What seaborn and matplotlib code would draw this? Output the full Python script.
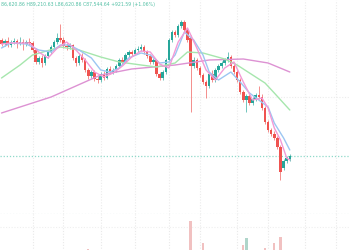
import numpy as np
import pandas as pd
import matplotlib
matplotlib.use("Agg")
import matplotlib.pyplot as plt
import seaborn as sns

# ---------------- data ----------------
open_ = [99150, 98750, 99050, 98650, 98950, 99050, 98750, 98950, 98750, 98950,
         98850, 98150, 96950, 97350, 96850, 97550, 97950, 98450, 98950, 99350,
         99150, 98550, 98450, 98650, 97350, 96850, 97550, 97150, 96150, 95550,
         95950, 95250, 95150, 95750, 95350, 96250, 95950, 96150, 96550, 97150,
         96950, 97650, 97950, 97750, 98150, 98250, 98450, 97950, 97550, 96950,
         97150, 95750, 95350, 95950, 97150, 99150, 99950, 99650, 100550, 100950,
         100150, 99350, 96550, 97150, 96350, 95650, 94950, 94550, 95750, 95150,
         96150, 96550, 96850, 97150, 97450, 96550, 95950, 95150, 93950, 93150,
         93550, 92850, 93250, 93650, 93450, 92350, 90950, 90150, 89750, 89350,
         88450, 86350, 87050, 87250]
high = [99350, 99250, 99450, 99150, 99350, 99250, 99450, 99250, 99150, 99350,
        99050, 98350, 97550, 97650, 97750, 98150, 98650, 99150, 99850, 100750,
        99450, 98850, 98850, 98750, 97550, 97750, 97850, 97350, 96350, 96150,
        96150, 95550, 95950, 96050, 96450, 96550, 96350, 96750, 97350, 97450,
        97850, 98150, 98150, 98350, 98550, 98750, 98650, 98150, 97750, 97350,
        97250, 95950, 96150, 97350, 99350, 100150, 100150, 100750, 101150, 101150,
        100350, 99650, 97450, 97350, 96550, 95850, 95150, 95950, 96150, 96350,
        96750, 97050, 97350, 97950, 97650, 96750, 96150, 95350, 94150, 93750,
        93750, 93450, 93850, 94550, 93750, 92550, 91150, 90350, 90050, 89550,
        88650, 87250, 87550, 87750]
low = [98550, 98550, 98450, 98450, 98750, 98350, 98650, 98150, 98550, 98650,
       97950, 96750, 96750, 96450, 96650, 97350, 97750, 98250, 98750, 98950,
       98350, 98150, 98250, 97150, 96550, 96650, 96950, 95950, 95250, 95350,
       95050, 94850, 94950, 95150, 95250, 95750, 95750, 95950, 96350, 96750,
       96850, 97450, 97550, 97650, 97950, 98050, 97750, 97350, 96750, 96750,
       95550, 95150, 95150, 95750, 96950, 98950, 99450, 99450, 100350, 99950,
       98950, 91950, 96350, 96150, 95450, 94750, 93350, 94350, 94950, 94950,
       95950, 96350, 96650, 96950, 96350, 95750, 94950, 93750, 92950, 91950,
       92650, 92650, 93050, 93250, 92150, 90750, 89950, 89550, 89150, 88250,
       85150, 86150, 86850, 87050]
close = [98750, 99050, 98650, 98950, 99050, 98750, 98950, 98750, 98950, 98850,
         98150, 96950, 97350, 96850, 97550, 97950, 98450, 98950, 99350, 99150,
         98550, 98450, 98650, 97350, 96850, 97550, 97150, 96150, 95550, 95950,
         95250, 95150, 95750, 95350, 96250, 95950, 96150, 96550, 97150, 96950,
         97650, 97950, 97750, 98150, 98250, 98450, 97950, 97550, 96950, 97150,
         95750, 95350, 95950, 97150, 99150, 99950, 99650, 100550, 100950, 100150,
         99150, 96550, 97150, 96350, 95650, 94950, 94550, 95750, 95150, 96150,
         96550, 96850, 97150, 97450, 96550, 95950, 95150, 93950, 93150, 93550,
         92850, 93250, 93650, 93450, 92350, 90950, 90150, 89750, 89350, 88450,
         85950, 87050, 87350, 87550]
volume = [9, 8, 10, 7, 8, 9, 7, 8, 9, 8,
          11, 13, 10, 9, 10, 9, 11, 12, 13, 14,
          12, 9, 8, 12, 13, 10, 9, 12, 16, 11,
          12, 13, 11, 10, 12, 9, 8, 9, 11, 8,
          10, 9, 8, 9, 8, 10, 9, 10, 12, 9,
          13, 12, 10, 11, 14, 13, 10, 12, 13, 12,
          14, 44, 12, 11, 13, 22, 14, 12, 10, 11,
          9, 8, 9, 11, 10, 11, 12, 14, 20, 27,
          13, 11, 10, 12, 14, 17, 14, 13, 22, 14,
          28, 13, 10, 8]

# moving averages (candle index, value)
ma_fast_idx = [0, 3, 6, 9, 12, 15, 18, 21, 24, 27, 30, 33, 36, 39, 42, 45, 48, 51,
               54, 57, 60, 63, 66, 69, 72, 75, 78, 81, 84, 86, 88, 90, 92, 93]
ma_fast = [98750, 98850, 98850, 98850, 97950, 97350, 98350, 98950, 98150, 97150,
           95950, 95450, 95850, 96550, 97450, 98050, 97950, 96750, 96350, 98950,
           100350, 98350, 96150, 95150, 96350, 96950, 94950, 93150, 93350, 92350,
           90350, 89150, 87350, 87150]
ma_mid_idx = [0, 3, 8, 12, 16, 19, 22, 25, 29, 32, 35, 38, 41, 45, 48, 51, 54, 56,
              59, 62, 65, 67, 70, 74, 77, 80, 83, 86, 88, 91, 93]
ma_mid = [98350, 98850, 98750, 98150, 97950, 98650, 98650, 98150, 97350, 96150,
          95950, 96350, 97350, 97850, 97650, 96850, 96950, 97650, 99950, 99150,
          97650, 95950, 95150, 95950, 94950, 93850, 93150, 92450, 90850, 89350,
          88150]
ma_slow_idx = [0, 6, 10, 19, 25, 32, 38, 45, 50, 56, 60, 65, 72, 76, 81, 85, 88, 93]
ma_slow = [95350, 96650, 97650, 98450, 98150, 97450, 96950, 96650, 96450, 96850,
           97950, 97850, 97250, 96650, 95650, 94850, 93850, 92150]
ma_long_idx = [0, 8, 16, 24, 32, 42, 56, 67, 78, 86, 93]
ma_long = [91850, 92650, 93450, 94550, 95650, 96250, 96650, 97150, 97250, 96850,
           95950]

grid_idx = [10, 20, 32, 43, 54, 64, 76, 86, 98, 108]
header = "86,620.86 H89,210.63 L86,620.86 C87,544.64 +921.59 (+1.06%)"

# ---------------- styling ----------------
sns.set_theme(style="white")
plt.rcParams['font.family'] = ['DejaVu Sans']

UP, DOWN = "#26a69a", "#ef5350"
UP_V, DOWN_V = "#a8dccd", "#f9b9b9"

n = len(close)
idx = np.arange(n)
o = np.array(open_, float)
c = np.array(close, float)
h = np.array(high, float)
l = np.array(low, float)
is_up = c >= o
cols = np.where(is_up, UP, DOWN)

df = pd.DataFrame({"i": idx, "open": o, "close": c, "high": h, "low": l,
                   "vol": volume, "dir": np.where(is_up, "up", "down")})

fig = plt.figure(figsize=(3.5, 2.5), dpi=100)
fig.patch.set_facecolor("white")
ax = fig.add_axes([0, 36 / 250, 1, 214 / 250])
axv = fig.add_axes([0, -15 / 250, 1, 51 / 250])
for a in (ax, axv):
    a.set_facecolor("none")
    for s in a.spines.values():
        s.set_visible(False)

XL = (-0.484, 112.42)

# volume pane
sns.barplot(data=df, x="i", y="vol", hue="dir", palette={"up": UP_V, "down": DOWN_V},
            native_scale=True, width=0.75, dodge=False, errorbar=None,
            legend=False, ax=axv, linewidth=0, zorder=2)
axv.set_xlim(*XL)
axv.set_ylim(0, 51)
axv.set_xticks(grid_idx)
axv.set_yticks([])
axv.grid(axis="x", color="#e9e9e9", ls=(0, (1, 1.5)), lw=0.8)
axv.axhline(38, color="#efefef", ls=(0, (1, 1.5)), lw=0.8, zorder=0)
axv.tick_params(length=0, labelbottom=False, labelleft=False)
axv.set_xlabel(""); axv.set_ylabel("")

# price pane
ax.set_xlim(*XL)
ax.set_ylim(81750, 103150)
ax.set_xticks(grid_idx)
ax.set_yticks([93450])
ax.grid(axis="both", color="#ececec", ls=(0, (1, 1.5)), lw=0.8)
ax.tick_params(length=0, labelbottom=False, labelleft=False)

ax.axhline(81750, color="#d5e6e3", ls=(0, (1, 1.5)), lw=0.9, zorder=1)
ax.axhline(close[-1], color="#8fd9c9", ls=(0, (1, 1.5)), lw=0.9, zorder=1)

ax.vlines(df["i"], df["low"], df["high"], colors=cols, lw=0.65, zorder=3, alpha=0.7)
ax.bar(df["i"], (df["close"] - df["open"]).abs().clip(lower=60),
       bottom=np.minimum(df["open"], df["close"]), width=0.78,
       color=cols, linewidth=0, zorder=4)

sns.lineplot(x=ma_long_idx, y=ma_long, ax=ax, color="#dd92d3", lw=1.0, zorder=5)
sns.lineplot(x=ma_slow_idx, y=ma_slow, ax=ax, color="#a6e6ad", lw=1.0, zorder=5)
sns.lineplot(x=ma_mid_idx, y=ma_mid, ax=ax, color="#9cc6f2", lw=1.0, zorder=5)
sns.lineplot(x=ma_fast_idx, y=ma_fast, ax=ax, color="#f39ad6", lw=1.0, zorder=5)
ax.set_xlabel(""); ax.set_ylabel("")

fig.text(0.0015, 0.993, header, fontsize=3.35, color="#52bfa4", va="top", ha="left")

fig.savefig("out.png", dpi=100, facecolor="white")
